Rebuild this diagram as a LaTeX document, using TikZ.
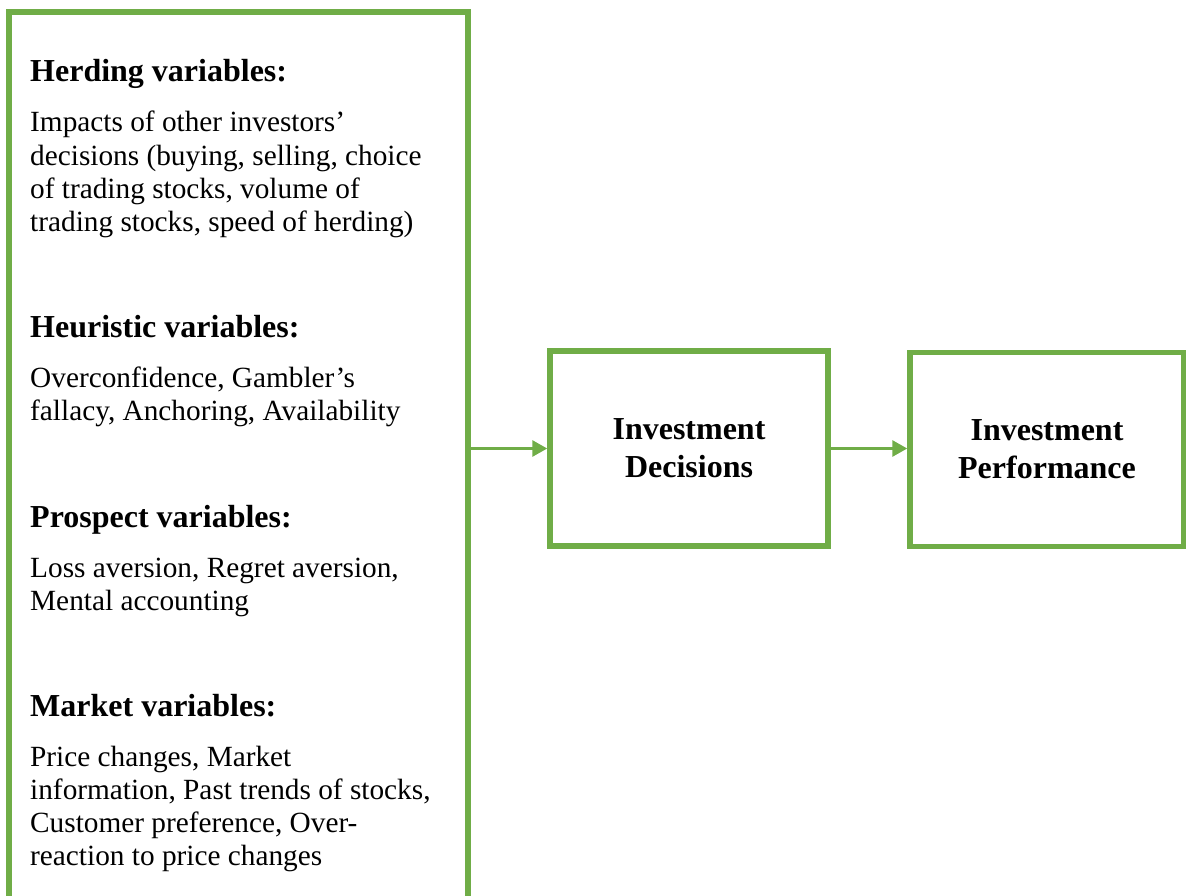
\documentclass[tikz,border=0pt]{standalone}
\usepackage{fontspec}
\setmainfont{Liberation Serif}
\usepackage{xcolor}
\usetikzlibrary{arrows.meta,positioning}
\definecolor{frame}{HTML}{70AD47}
\definecolor{ink}{HTML}{000000}
\tikzset{
  box/.style={draw=frame, line width=5.5pt, rectangle, inner sep=0pt},
  flow/.style={draw=frame, line width=3pt, -{Triangle[length=15pt,width=16pt]}},
  head/.style={anchor=base west, inner sep=0pt, text=ink, font=\fontsize{32}{38}\selectfont\bfseries},
  body/.style={anchor=base west, inner sep=0pt, text=ink, font=\fontsize{29.3}{33.3}\selectfont},
  stage/.style={box, minimum width=278pt, minimum height=195pt, align=center, text=ink,
    font=\fontsize{32}{38}\selectfont\bfseries},
}
\newcommand{\bodytext}[1]{\parbox[t]{440pt}{\raggedright #1}}

\begin{document}
\begin{tikzpicture}[x=1pt,y=-1pt]
  \useasboundingbox (0,0) rectangle (1186,896);
  \node[box, minimum width=459pt, minimum height=930pt, anchor=north west] (factors) at (6.25,9.25) {};
  \node[stage] (decision) at (689,448.5) {Investment\\Decisions};
  \node[stage, minimum width=274pt, minimum height=194pt] (performance) at (1047,449.5) {Investment\\Performance};

  \node[head] (herding) at (30,82) {Herding variables:};
  \node[body] (herdingtxt) at (30,132) {\bodytext{Impacts of other investors’\\decisions (buying, selling, choice\\of trading stocks, volume of\\trading stocks, speed of herding)}};
  \node[head] (heuristic) at (30,337) {Heuristic variables:};
  \node[body] (heuristictxt) at (30,387) {\bodytext{Overconfidence, Gambler’s\\fallacy, Anchoring, Availability}};
  \node[head] (prospect) at (30,527) {Prospect variables:};
  \node[body] (prospecttxt) at (30,577) {\bodytext{Loss aversion, Regret aversion,\\Mental accounting}};
  \node[head] (market) at (30,716) {Market variables:};
  \node[body] (markettxt) at (30,766) {\bodytext{Price changes, Market\\information, Past trends of stocks,\\Customer preference, Over-\\reaction to price changes}};

  \draw[flow] (factors.east |- decision.west) -- (decision.west);
  \draw[flow] (decision.east) -- (decision.east -| performance.west);
\end{tikzpicture}
\end{document}
